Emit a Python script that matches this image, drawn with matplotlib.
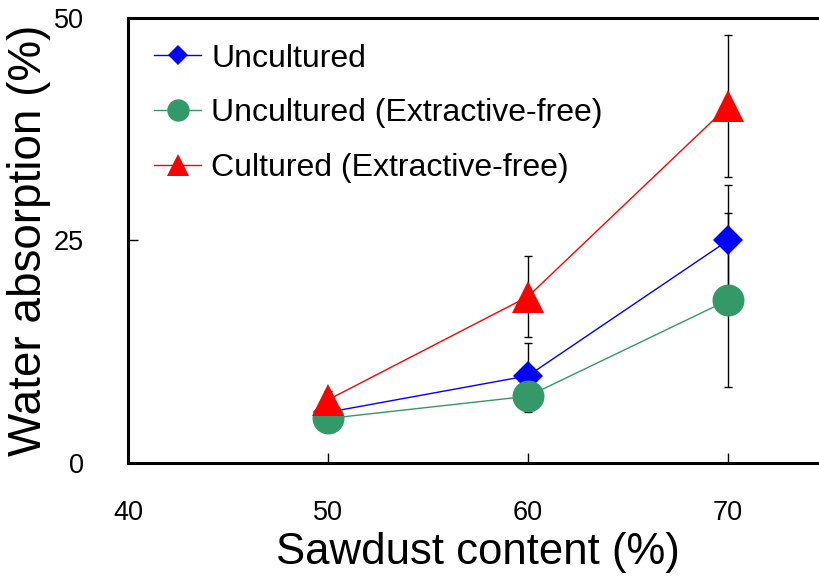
import matplotlib.pyplot as plt

plt.rcParams['font.family'] = ['Liberation Sans', 'DejaVu Sans']

sawdust = [50, 60, 70]

uncultured = [5.7, 9.8, 25.0]
uncultured_err = [0.5, 3.7, 6.2]

uncultured_ef = [5.0, 7.5, 18.3]
uncultured_ef_err = [0.5, 1.8, 9.8]

cultured_ef = [7.1, 18.7, 40.1]
cultured_ef_err = [1.0, 4.6, 8.0]

labels = ['Uncultured', 'Uncultured (Extractive-free)', 'Cultured (Extractive-free)']

fig = plt.figure(figsize=(8.19, 5.77), dpi=100)
ax = fig.add_axes([0.1563, 0.1976, 0.8547, 0.7712])

series = [
    (uncultured, uncultured_err, '#0000FF', 'D', 15),
    (uncultured_ef, uncultured_ef_err, '#339966', 'o', 23),
    (cultured_ef, cultured_ef_err, '#FF0000', '^', 23),
]

# error bars behind the markers
for vals, err, col, mk, ms in series:
    ax.errorbar(sawdust, vals, yerr=err, fmt='none', ecolor='black',
                elinewidth=1.0, capsize=3, capthick=1.0, zorder=2)

for (vals, err, col, mk, ms), lab in zip(series, labels):
    ax.plot(sawdust, vals, color=col, linewidth=1.0, marker=mk,
            markersize=ms, markeredgewidth=0, label=lab, zorder=3)

ax.set_xlim(40, 75)
ax.set_ylim(0, 50)
ax.set_xticks([40, 50, 60, 70])
ax.set_yticks([0, 25, 50])

for s in ax.spines.values():
    s.set_linewidth(2.2)
ax.spines['right'].set_visible(False)

ax.tick_params(axis='both', direction='in', length=7, width=1,
               labelsize=19.5)
ax.tick_params(axis='x', pad=27)
ax.tick_params(axis='y', pad=32)

ax.set_xlabel('Sawdust content (%)', fontsize=31.5, labelpad=4)
ax.set_ylabel('Water absorption (%)', fontsize=33, labelpad=2)

ax.legend(loc='upper left', bbox_to_anchor=(0.0, 1.0), frameon=False,
          fontsize=23, markerscale=0.7, handlelength=1.5,
          handletextpad=0.3, labelspacing=0.77, borderaxespad=0.4)

fig.savefig('out.png', dpi=100)
